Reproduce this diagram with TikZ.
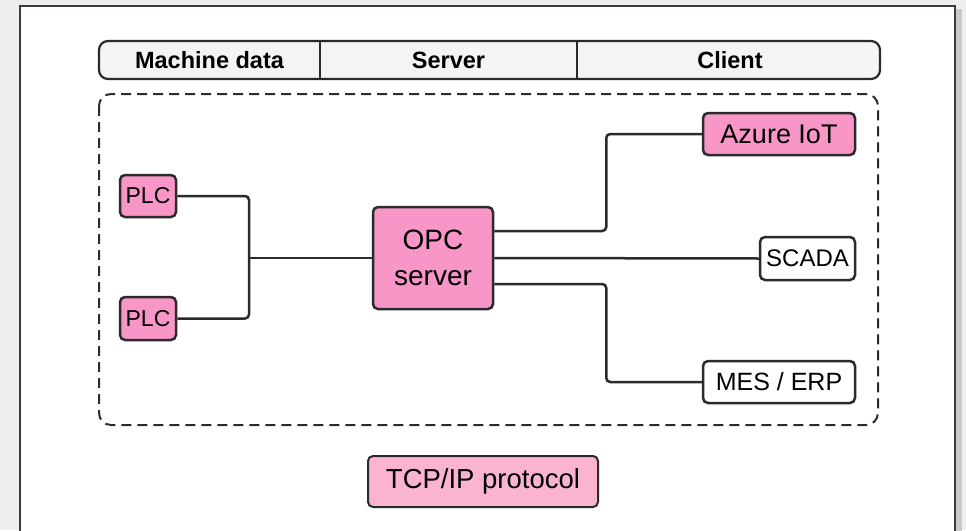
\documentclass[tikz,border=0pt]{standalone}
\usepackage{fontspec}
\setmainfont{Liberation Sans}
\definecolor{pinkfill}{HTML}{F896C8}
\definecolor{lightpink}{HTML}{FBB4CF}
\definecolor{ink}{HTML}{2B2B2B}
\definecolor{hdrfill}{HTML}{F4F4F4}
\definecolor{bggray}{HTML}{EEEEEE}
\definecolor{panelline}{HTML}{3A3A48}
\tikzset{
  box/.style={draw=ink, line width=2.5pt, rounded corners=5pt, inner sep=0pt, align=center, text=black},
  pinkbox/.style={box, fill=pinkfill},
  whitebox/.style={box, fill=white},
  wire/.style={draw=ink, line width=2.5pt, rounded corners=4pt},
  hdr/.style={font=\fontsize{23.5}{26}\selectfont\bfseries, text=black},
}
\begin{document}
\begin{tikzpicture}[x=1pt,y=-1pt]
\useasboundingbox (0,0) rectangle (966,530);
\clip (0,0) rectangle (966,530);
\fill[bggray] (0,0) rectangle (966,530);
% shadow
\fill[gray!60, opacity=0.6] (956,9) rectangle (962,540);
% panel
\draw[panelline, fill=white, line width=2pt] (20,6) rectangle (955,545);
% header bar
\draw[ink, fill=hdrfill, line width=2.2pt, rounded corners=9pt] (99,41) rectangle (880,79);
\draw[ink, line width=2pt] (320,41) -- (320,79);
\draw[ink, line width=2pt] (577,41) -- (577,79);
\node[hdr] (hmd) at (209.5,60) {Machine data};
\node[hdr] (hsv) at (448.5,60) {Server};
\node[hdr] (hcl) at (730,60) {Client};
% dashed region
\draw[ink, line width=2pt, dash pattern=on 10pt off 6pt, rounded corners=12pt] (99,94) rectangle (878,425);
% nodes
\node[pinkbox, minimum width=56pt, minimum height=42pt, font=\fontsize{23}{26}\selectfont] (plc1) at (148,196) {PLC};
\node[pinkbox, minimum width=56pt, minimum height=43pt, font=\fontsize{23}{26}\selectfont] (plc2) at (148,318.5) {PLC};
\node[pinkbox, minimum width=120pt, minimum height=102pt, font=\fontsize{28}{36}\selectfont] (opc) at (433,258) {OPC\\server};
\node[pinkbox, minimum width=152pt, minimum height=42pt, font=\fontsize{27}{30}\selectfont] (azure) at (779,134) {Azure IoT};
\node[whitebox, minimum width=95pt, minimum height=43pt, font=\fontsize{24}{27}\selectfont] (scada) at (807.5,258.5) {SCADA};
\node[whitebox, minimum width=152pt, minimum height=42pt, font=\fontsize{25}{28}\selectfont] (mes) at (779,382) {MES / ERP};
\node[box, fill=lightpink, line width=2pt, minimum width=230pt, minimum height=51pt, font=\fontsize{27.5}{30}\selectfont] (tcp) at (483,481.5) {TCP/IP protocol};
% connectors
\coordinate (bus) at (249,258);
\draw[wire] (plc1.east) -| (bus) |- (plc2.east);
\draw[wire] (bus) -- (opc.west);
\draw[wire] ([yshift=27pt]opc.east) -- ++(112,0) |- (azure.west);
\draw[wire] (opc.east) -- (scada.west);
\draw[wire] ([yshift=-26pt]opc.east) -- ++(112,0) |- (mes.west);
\end{tikzpicture}
\end{document}
